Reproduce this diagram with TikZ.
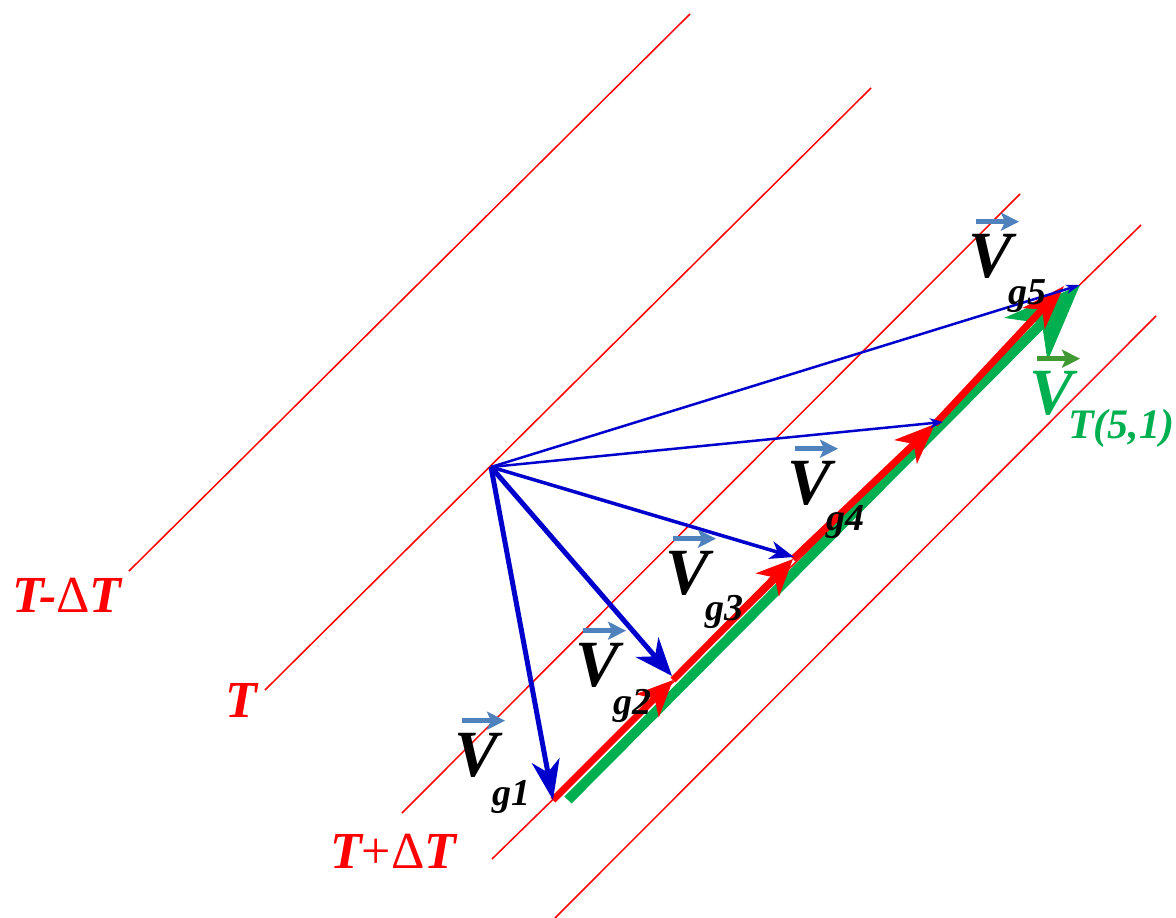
\documentclass[tikz,border=0pt]{standalone}
\usepackage{fontspec}
\setmainfont{Liberation Serif}
\usetikzlibrary{arrows.meta}

\definecolor{probeblue}{RGB}{0,0,204}
\definecolor{vecblue}{RGB}{79,129,189}
\definecolor{pathgreen}{RGB}{0,176,80}
\definecolor{vecgreen}{RGB}{64,153,51}

\begin{document}
\begin{tikzpicture}[x=1pt,y=-1pt,
  isoline/.style={red, line width=1.5pt},
  gradarrow/.style={red, line width=7pt},
  probe/.style={probeblue},
  tlab/.style={red, font=\fontsize{52}{52}\selectfont\bfseries\itshape, inner sep=0pt, anchor=base west},
  vlab/.style={font=\fontsize{66}{66}\selectfont\bfseries\itshape, inner sep=0pt},
  glab/.style={font=\fontsize{38}{38}\selectfont\bfseries\itshape, inner sep=0pt, anchor=base},
  vecarrow/.style={vecblue, line width=5pt, -{Stealth[length=18pt,width=18pt,inset=4pt]}}]

\useasboundingbox (0,0) rectangle (1176,918);

%%%%% isotherms
\coordinate (l1a) at (129,571);  \coordinate (l1b) at (690,14);
\coordinate (l2a) at (265,690);  \coordinate (l2b) at (871,88);
\coordinate (l3a) at (402,813);  \coordinate (l3b) at (1020,194);
\coordinate (l4a) at (492,859);  \coordinate (l4b) at (1141,225);
\coordinate (l5a) at (555,918);  \coordinate (l5b) at (1156,316);
\foreach \i in {1,...,5} {
  \draw[isoline] (l\i a) -- (l\i b);
}

%%%%% points
\coordinate (O) at (491,467);
\coordinate (g1) at (553,800);
\coordinate (g2) at (672,676);
\coordinate (g3) at (794,557);
\coordinate (g4) at (943,422);
\coordinate (g5) at (1080,285);
\coordinate (r2) at (673,680);
\coordinate (r3) at (793,559);
\coordinate (r4) at (935,424);
\coordinate (r5) at (1064,286);
\coordinate (gs) at (568,800);

%%%%% green path
\draw[pathgreen, line width=10pt, -{Stealth[length=76pt,width=60pt,inset=22pt]}] (gs) -- (g5);

%%%%% red steps
\draw[gradarrow, -{Stealth[length=36pt,width=32pt,inset=10pt]}] (g1) -- (r2);
\draw[gradarrow, -{Stealth[length=36pt,width=32pt,inset=10pt]}] (r2) -- (r3);
\draw[gradarrow, -{Stealth[length=40pt,width=32pt,inset=11pt]}] (r3) -- (r4);
\draw[gradarrow, -{Stealth[length=44pt,width=30pt,inset=12pt]}] (r4) -- (r5);

%%%%% probes
\draw[probe, line width=5pt, -{Stealth[length=40pt,width=28pt,inset=12pt]}] (O) -- (g1);
\draw[probe, line width=5pt, -{Stealth[length=38pt,width=30pt,inset=12pt]}] (O) -- (g2);
\draw[probe, line width=3.5pt, -{Stealth[length=24pt,width=18pt,inset=7pt]}] (O) -- (g3);
\draw[probe, line width=2.5pt, -{Stealth[length=13pt,width=10pt,inset=4pt]}] (O) -- (g4);
\draw[probe, line width=2.5pt, -{Stealth[length=14pt,width=9pt,inset=4pt]}] (O) -- (g5);

%%%%% temperature labels
\node[tlab] (tm) at (12,612) {T-{\mdseries\upshape Δ}T};
\node[tlab] (t0) at (225,717) {T};
\node[tlab] (tp) at (330,868) {T{\mdseries\upshape +Δ}T};

%%%%% V labels
\foreach \n/\x/\y in {1/477/755, 2/598/665, 3/688/573, 4/810/483, 5/991/256} {
  \node[vlab] (V\n) at (\x,\y) {V};
  \coordinate (va\n) at ([xshift=-15pt,yshift=12pt]V\n.north);
  \coordinate (vb\n) at ([xshift=28pt,yshift=12pt]V\n.north);
  \draw[vecarrow] (va\n) -- (vb\n);
}
\node[vlab, text=pathgreen] (Vg) at (1052,393) {V};
\coordinate (vag) at ([xshift=-15pt,yshift=12pt]Vg.north);
\coordinate (vbg) at ([xshift=28pt,yshift=12pt]Vg.north);
\draw[vecarrow, vecgreen] (vag) -- (vbg);

%%%%% g labels
\node[glab] (n1) at (511,805) {g1};
\node[glab] (n2) at (632,714) {g2};
\node[glab] (n3) at (724,620) {g3};
\node[glab] (n4) at (845,530) {g4};
\node[glab] (n5) at (1027,304) {g5};

\node[tlab, text=pathgreen, font=\fontsize{42}{42}\selectfont\bfseries\itshape] (tf) at (1068,438) {T(5,1)};

\end{tikzpicture}
\end{document}
